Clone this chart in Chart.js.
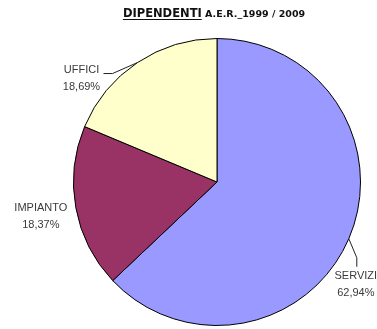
<!DOCTYPE html>
<html>
<head>
<meta charset="utf-8">
<script src="https://cdn.jsdelivr.net/npm/chart.js@4/dist/chart.umd.min.js"></script>
<style>
  html, body { margin: 0; padding: 0; background: #fff; }
  #wrap { width: 377px; height: 329px; }
</style>
</head>
<body>
<div id="wrap"><canvas id="myChart"></canvas></div>
<script>
var categories = ["SERVIZI", "IMPIANTO", "UFFICI"];
var percents = [62.94, 18.37, 18.69];
var colors = ["#9999ff", "#993366", "#ffffcc"];

// where each label sits relative to the slice's outer edge point, plus optional leader line
var labelOpts = [
  { dx: 7, dy: 40, leader: [[8, 19], [8, 28]] },
  { dx: -35, dy: 3, leader: null },
  { dx: -56, dy: 10, leader: [[-25, 11], [-34, 11]] }
];

function fmt(v) {
  return v.toFixed(2).replace(".", ",") + "%";
}

var titlePlugin = {
  id: "titleText",
  afterDraw: function (chart) {
    var c = chart.ctx;
    c.save();
    c.fillStyle = "#111";
    c.strokeStyle = "#111";
    c.textBaseline = "alphabetic";
    c.textAlign = "left";
    var part1 = "DIPENDENTI";
    var part2 = " A.E.R._1999 / 2009";
    c.font = "bold 11.5px 'DejaVu Sans'";
    var w1 = c.measureText(part1).width;
    c.font = "bold 9.5px 'DejaVu Sans'";
    var w2 = c.measureText(part2).width;
    var x = 214 - (w1 + w2) / 2;
    var y = 17;
    c.font = "bold 11.5px 'DejaVu Sans'";
    c.fillText(part1, x, y);
    c.lineWidth = 1;
    c.beginPath();
    c.moveTo(x, y + 2.5);
    c.lineTo(x + w1, y + 2.5);
    c.stroke();
    c.font = "bold 9.5px 'DejaVu Sans'";
    c.fillText(part2, x + w1, y);
    c.restore();
  }
};

var labelPlugin = {
  id: "sliceLabels",
  afterDatasetsDraw: function (chart) {
    var c = chart.ctx;
    var meta = chart.getDatasetMeta(0);
    c.save();
    c.font = "11px 'Liberation Sans'";
    c.fillStyle = "#3a3a3a";
    c.strokeStyle = "#222";
    c.lineWidth = 1;
    c.textAlign = "center";
    c.textBaseline = "alphabetic";
    meta.data.forEach(function (arc, i) {
      var p = arc.getProps(["x", "y", "startAngle", "endAngle", "outerRadius"], true);
      var mid = (p.startAngle + p.endAngle) / 2;
      var ex = p.x + Math.cos(mid) * p.outerRadius;
      var ey = p.y + Math.sin(mid) * p.outerRadius;
      var o = labelOpts[i];
      if (o.leader) {
        c.beginPath();
        c.moveTo(ex, ey);
        o.leader.forEach(function (pt) {
          c.lineTo(ex + pt[0], ey + pt[1]);
        });
        c.stroke();
      }
      var lx = ex + o.dx;
      var ly = ey + o.dy;
      c.fillText(categories[i], lx, ly);
      c.fillText(fmt(percents[i]), lx, ly + 17);
    });
    c.restore();
  }
};

var ctx = document.getElementById("myChart").getContext("2d");

var myChart = new Chart(ctx, {
  type: "pie",
  data: {
    labels: categories,
    datasets: [
      {
        data: percents,
        backgroundColor: colors,
        borderColor: "#000",
        borderWidth: 1
      }
    ]
  },
  options: {
    responsive: true,
    maintainAspectRatio: false,
    animation: false,
    layout: {
      padding: { left: 73, right: 16, top: 38, bottom: 3 }
    },
    plugins: {
      legend: { display: false },
      title: { display: false },
      tooltip: { enabled: false }
    }
  },
  plugins: [titlePlugin, labelPlugin]
});
</script>
</body>
</html>
